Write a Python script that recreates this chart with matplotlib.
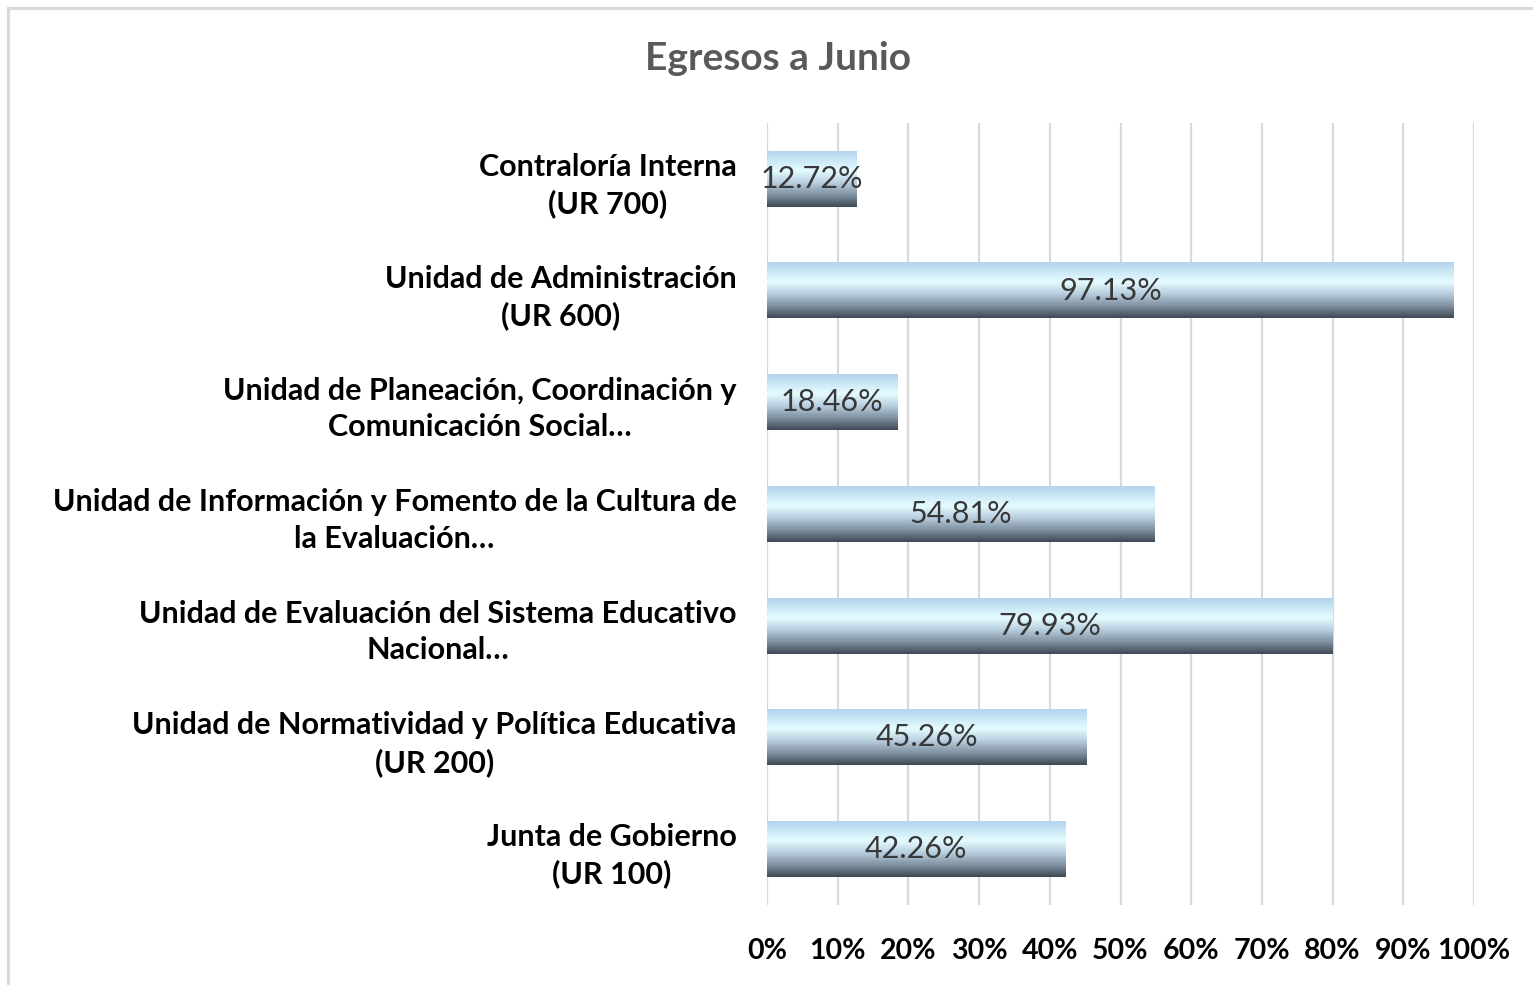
import numpy as np
import matplotlib
matplotlib.use("Agg")
import matplotlib.pyplot as plt
from matplotlib.lines import Line2D
from matplotlib.colors import LinearSegmentedColormap

plt.rcParams['font.family'] = ['Lato', 'DejaVu Sans']

categories = [
    "Contraloría Interna\n(UR 700)",
    "Unidad de Administración\n(UR 600)",
    "Unidad de Planeación, Coordinación y\nComunicación Social…",
    "Unidad de Información y Fomento de la Cultura de\nla Evaluación…",
    "Unidad de Evaluación del Sistema Educativo\nNacional…",
    "Unidad de Normatividad y Política Educativa\n(UR 200)",
    "Junta de Gobierno\n(UR 100)",
]
values = [0.1272, 0.9713, 0.1846, 0.5481, 0.7993, 0.4526, 0.4226]
ticks = np.arange(0, 1.01, 0.1)

fig = plt.figure(figsize=(15.33, 9.85), dpi=100)
ax = fig.add_axes([767 / 1533, 1 - 905 / 985, (1474 - 767) / 1533, (905 - 123) / 985])

# vertical gradient used to fill each bar (top -> bottom)
cmap = LinearSegmentedColormap.from_list("bar", [
    (0.0, "#b4d4ee"),
    (0.35, "#e4fcff"),
    (0.55, "#bcd2e2"),
    (0.8, "#7c8d9c"),
    (1.0, "#3e4954"),
])
grad = np.linspace(0, 1, 200).reshape(-1, 1)

h = 0.5
y = np.arange(len(categories))
for yi, v in zip(y, values):
    ax.imshow(grad, cmap=cmap, aspect='auto', extent=(0, v, yi + h / 2, yi - h / 2),
              origin='upper', zorder=2, interpolation='bilinear')
    ax.text(v / 2, yi, f"{v * 100:.2f}%", ha='center', va='center',
            fontsize=22, color='#383838', zorder=3)

ax.set_xlim(0, 1)
ax.set_ylim(len(categories) - 0.5, -0.5)
ax.set_xticks(ticks)
ax.set_xticklabels([f"{int(round(t * 100))}%" for t in ticks], fontsize=20.5, fontweight='bold')
ax.set_yticks(y)
ax.set_yticklabels(categories, fontsize=22, fontweight='bold')
for lbl in ax.get_yticklabels():
    lbl.set_multialignment('center')
    lbl.set_linespacing(1.35)
ax.tick_params(length=0)
ax.tick_params(axis='x', pad=24)
ax.tick_params(axis='y', pad=22)
ax.grid(axis='x', color='#d9d9d9', linewidth=1.6, zorder=0)
ax.set_axisbelow(True)
for s in ax.spines.values():
    s.set_visible(False)

fig.text(778 / 1533, 1 - 58 / 985, "Egresos a Junio", ha='center', va='center',
         fontsize=28, fontweight='bold', color='#595959')

# chart area border (left and top edges visible)
fig.add_artist(Line2D([8 / 1533, 8 / 1533], [0, 1 - 8 / 985], color='#d9d9d9', lw=2.2))
fig.add_artist(Line2D([8 / 1533, 1], [1 - 8 / 985, 1 - 8 / 985], color='#d9d9d9', lw=2.2))

fig.savefig("out.png", dpi=100)
